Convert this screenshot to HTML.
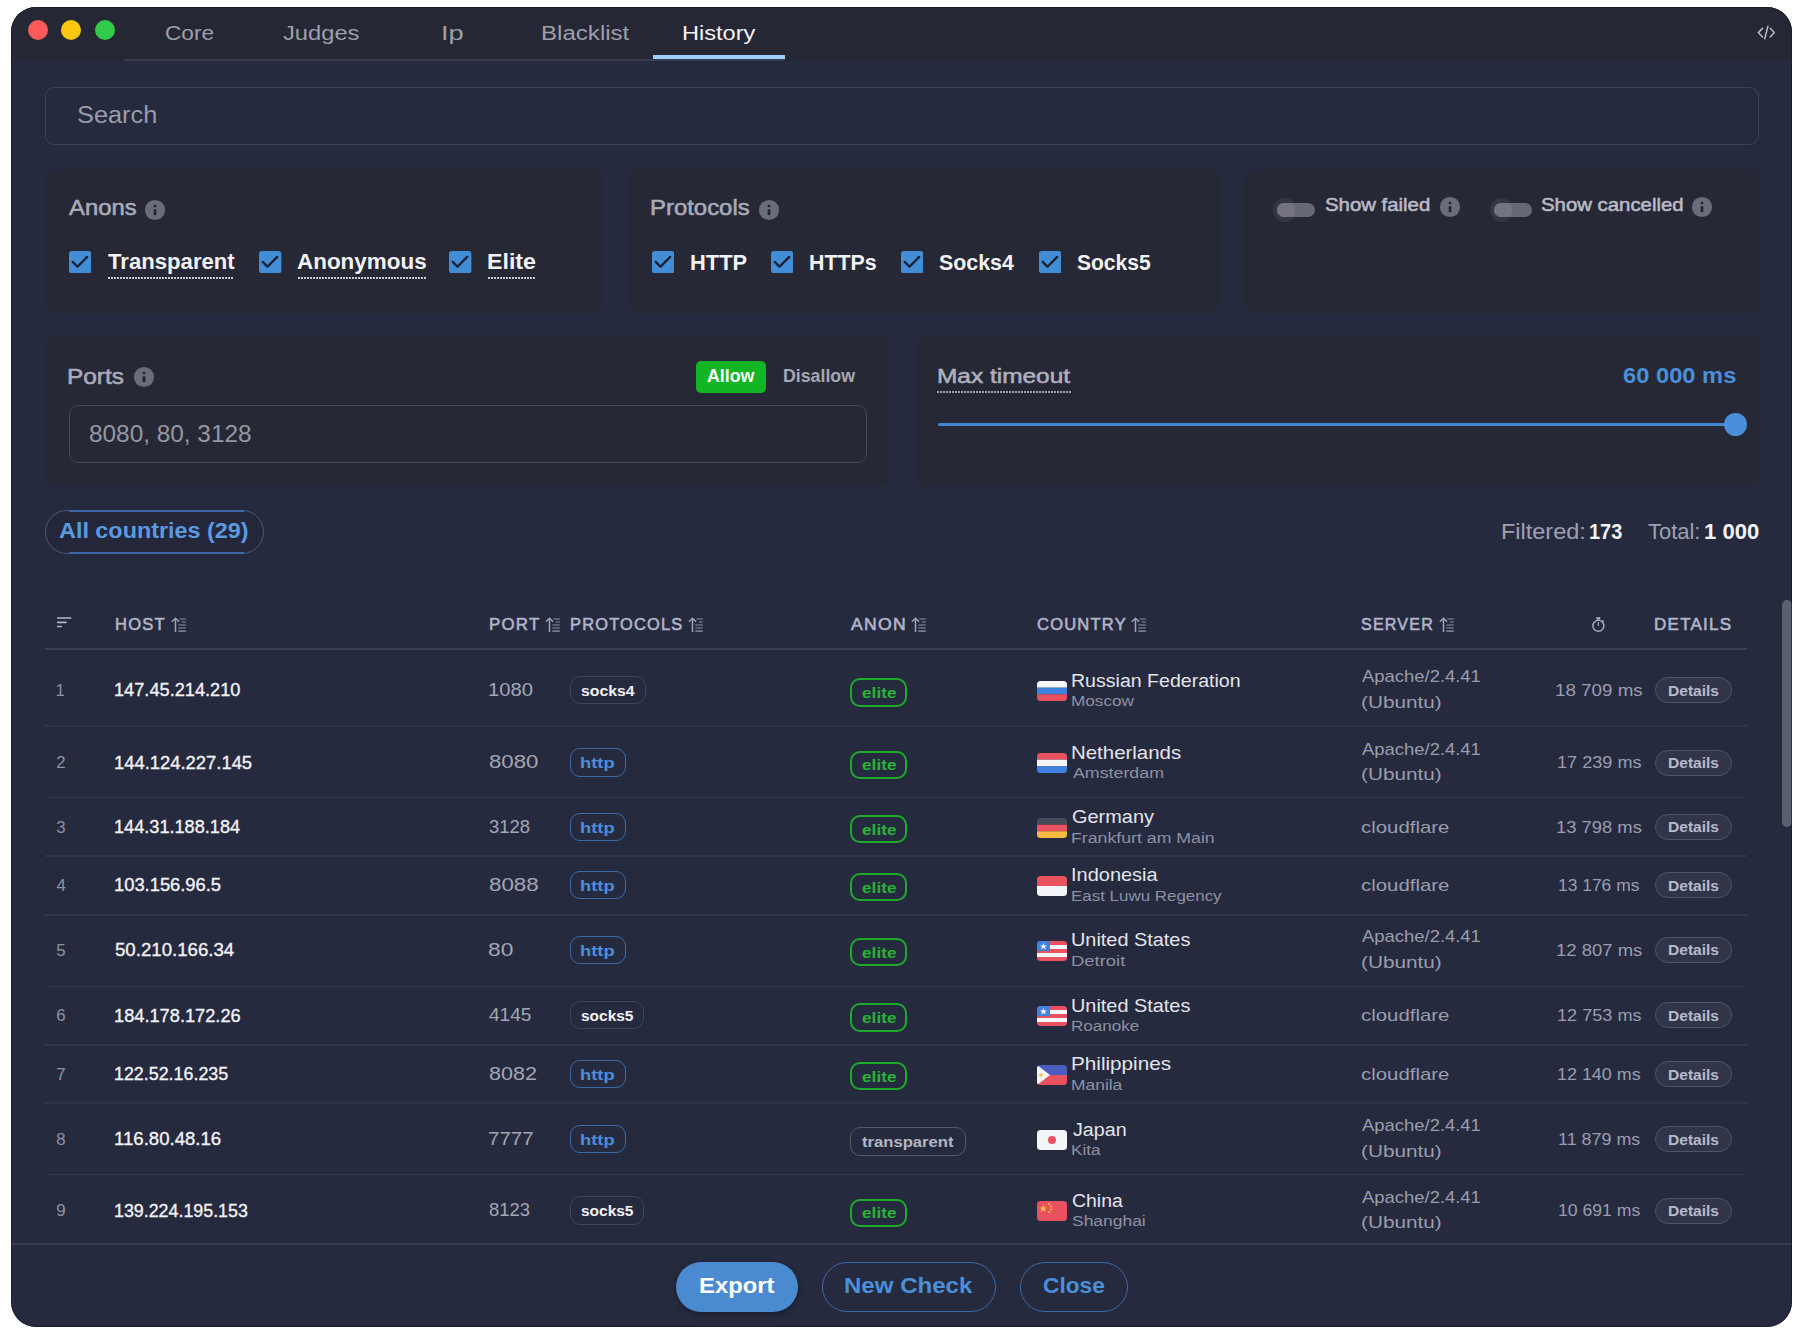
<!DOCTYPE html>
<html><head><meta charset="utf-8"><title>History</title>
<style>
html,body{margin:0;padding:0;background:#ffffff;width:1801px;height:1334px;overflow:hidden;}
body{position:relative;font-family:'Liberation Sans', Arial, sans-serif;}
.t{position:absolute;white-space:nowrap;line-height:1;}
</style></head><body>
<div style="position:absolute;left:11px;top:7px;width:1781px;height:1320px;border-radius:25px;background:#262a3f;overflow:hidden;"><div style="position:absolute;left:0;top:0;width:1781px;height:53.6px;background:#252735;"></div></div><div style="position:absolute;left:27.9px;top:20px;width:20px;height:20px;border-radius:50%;background:#fe5a5c;"></div><div style="position:absolute;left:61.3px;top:20px;width:20px;height:20px;border-radius:50%;background:#fbc70f;"></div><div style="position:absolute;left:94.8px;top:20px;width:20px;height:20px;border-radius:50%;background:#30cb4b;"></div><div style="position:absolute;left:124px;top:59.2px;width:661px;height:1.6px;background:#393c4f;"></div><div style="position:absolute;left:653px;top:55px;width:132px;height:4px;background:#9dcff7;"></div><svg style="position:absolute;left:1756px;top:25px" width="21" height="16" viewBox="0 0 21 16" fill="none" stroke="#b8b9c6" stroke-width="1.5" stroke-linecap="round" stroke-linejoin="round"><path d="M6.5 3.4 L2.3 7.6 L6.5 11.9"/><path d="M14.2 3.3 L18.3 7.6 L14.2 11.9"/><path d="M11.9 1.3 L8.7 13.8"/></svg><div style="position:absolute;left:45px;top:87px;width:1714px;height:58px;box-sizing:border-box;border:1.5px solid #3c4156;border-radius:9px;"></div><div style="position:absolute;left:45px;top:169px;width:558px;height:144.5px;background:#262835;border-radius:12px;"></div><div style="position:absolute;left:628px;top:169px;width:591.5px;height:144.5px;background:#262835;border-radius:12px;"></div><div style="position:absolute;left:1244px;top:169px;width:516px;height:144.5px;background:#262835;border-radius:12px;"></div><div style="position:absolute;left:45px;top:335px;width:845px;height:150.5px;background:#262835;border-radius:12px;"></div><div style="position:absolute;left:914.5px;top:335px;width:844.5px;height:150.5px;background:#262835;border-radius:12px;"></div><svg style="position:absolute;left:143.6px;top:198.6px" width="22" height="22" viewBox="0 0 22 22"><circle cx="11" cy="11" r="10.1" fill="#6b6c79"/><circle cx="11" cy="7.1" r="1.45" fill="#23242f"/><rect x="9.65" y="10.3" width="2.7" height="5.8" fill="#23242f"/></svg><svg style="position:absolute;left:69px;top:251px" width="22.4" height="22.4" viewBox="0 0 22.4 22.4"><rect width="22.4" height="22.4" rx="3" fill="#438cd6"/><path d="M3.7 10.9 L8.5 15.7 L18.2 5.9" fill="none" stroke="#1b2031" stroke-width="2.3" stroke-linecap="round" stroke-linejoin="round"/></svg><div style="position:absolute;left:108px;top:277px;width:126px;height:2px;background:repeating-linear-gradient(90deg,#c9cad3 0 2px,transparent 2px 3px);"></div><svg style="position:absolute;left:259.3px;top:251px" width="22.4" height="22.4" viewBox="0 0 22.4 22.4"><rect width="22.4" height="22.4" rx="3" fill="#438cd6"/><path d="M3.7 10.9 L8.5 15.7 L18.2 5.9" fill="none" stroke="#1b2031" stroke-width="2.3" stroke-linecap="round" stroke-linejoin="round"/></svg><div style="position:absolute;left:298px;top:277px;width:128px;height:2px;background:repeating-linear-gradient(90deg,#c9cad3 0 2px,transparent 2px 3px);"></div><svg style="position:absolute;left:449.3px;top:251px" width="22.4" height="22.4" viewBox="0 0 22.4 22.4"><rect width="22.4" height="22.4" rx="3" fill="#438cd6"/><path d="M3.7 10.9 L8.5 15.7 L18.2 5.9" fill="none" stroke="#1b2031" stroke-width="2.3" stroke-linecap="round" stroke-linejoin="round"/></svg><div style="position:absolute;left:488px;top:277px;width:47px;height:2px;background:repeating-linear-gradient(90deg,#c9cad3 0 2px,transparent 2px 3px);"></div><svg style="position:absolute;left:757.7px;top:198.6px" width="22" height="22" viewBox="0 0 22 22"><circle cx="11" cy="11" r="10.1" fill="#6b6c79"/><circle cx="11" cy="7.1" r="1.45" fill="#23242f"/><rect x="9.65" y="10.3" width="2.7" height="5.8" fill="#23242f"/></svg><svg style="position:absolute;left:652px;top:251px" width="22.4" height="22.4" viewBox="0 0 22.4 22.4"><rect width="22.4" height="22.4" rx="3" fill="#438cd6"/><path d="M3.7 10.9 L8.5 15.7 L18.2 5.9" fill="none" stroke="#1b2031" stroke-width="2.3" stroke-linecap="round" stroke-linejoin="round"/></svg><svg style="position:absolute;left:771.1px;top:251px" width="22.4" height="22.4" viewBox="0 0 22.4 22.4"><rect width="22.4" height="22.4" rx="3" fill="#438cd6"/><path d="M3.7 10.9 L8.5 15.7 L18.2 5.9" fill="none" stroke="#1b2031" stroke-width="2.3" stroke-linecap="round" stroke-linejoin="round"/></svg><svg style="position:absolute;left:900.9px;top:251px" width="22.4" height="22.4" viewBox="0 0 22.4 22.4"><rect width="22.4" height="22.4" rx="3" fill="#438cd6"/><path d="M3.7 10.9 L8.5 15.7 L18.2 5.9" fill="none" stroke="#1b2031" stroke-width="2.3" stroke-linecap="round" stroke-linejoin="round"/></svg><svg style="position:absolute;left:1038.6px;top:251px" width="22.4" height="22.4" viewBox="0 0 22.4 22.4"><rect width="22.4" height="22.4" rx="3" fill="#438cd6"/><path d="M3.7 10.9 L8.5 15.7 L18.2 5.9" fill="none" stroke="#1b2031" stroke-width="2.3" stroke-linecap="round" stroke-linejoin="round"/></svg><div style="position:absolute;left:1273.2px;top:198.3px;width:23.4px;height:23.4px;border-radius:50%;background:#343645;"></div><div style="position:absolute;left:1277px;top:202.5px;width:38px;height:14.5px;border-radius:7.25px;background:#666873;"></div><div style="position:absolute;left:1277px;top:202.5px;width:18px;height:14.5px;border-radius:7.25px 5px 5px 7.25px;background:#737480;"></div><svg style="position:absolute;left:1438.5px;top:196px" width="22" height="22" viewBox="0 0 22 22"><circle cx="11" cy="11" r="10.1" fill="#6b6c79"/><circle cx="11" cy="7.1" r="1.45" fill="#23242f"/><rect x="9.65" y="10.3" width="2.7" height="5.8" fill="#23242f"/></svg><div style="position:absolute;left:1489.7px;top:198.3px;width:23.4px;height:23.4px;border-radius:50%;background:#343645;"></div><div style="position:absolute;left:1493.5px;top:202.5px;width:38px;height:14.5px;border-radius:7.25px;background:#666873;"></div><div style="position:absolute;left:1493.5px;top:202.5px;width:18px;height:14.5px;border-radius:7.25px 5px 5px 7.25px;background:#737480;"></div><svg style="position:absolute;left:1691.2px;top:196px" width="22" height="22" viewBox="0 0 22 22"><circle cx="11" cy="11" r="10.1" fill="#6b6c79"/><circle cx="11" cy="7.1" r="1.45" fill="#23242f"/><rect x="9.65" y="10.3" width="2.7" height="5.8" fill="#23242f"/></svg><svg style="position:absolute;left:132.8px;top:366.4px" width="22" height="22" viewBox="0 0 22 22"><circle cx="11" cy="11" r="10.1" fill="#6b6c79"/><circle cx="11" cy="7.1" r="1.45" fill="#23242f"/><rect x="9.65" y="10.3" width="2.7" height="5.8" fill="#23242f"/></svg><div style="position:absolute;left:695.5px;top:360.5px;width:70.5px;height:32px;background:#12b523;border-radius:5px;"></div><div style="position:absolute;left:69px;top:405px;width:797.5px;height:57.5px;box-sizing:border-box;border:1.5px solid #454857;border-radius:9px;"></div><div style="position:absolute;left:937px;top:391px;width:134.2px;height:2px;background:repeating-linear-gradient(90deg,#9ea1ae 0 2px,transparent 2px 3px);"></div><div style="position:absolute;left:937.6px;top:423.1px;width:798px;height:3.2px;background:#4088d2;border-radius:2px;"></div><div style="position:absolute;left:1723.8px;top:413.2px;width:23px;height:23px;background:#4a8fd9;border-radius:50%;"></div><div style="position:absolute;left:45px;top:510px;width:219px;height:43.5px;box-sizing:border-box;border:1.5px solid #4a5a7c;border-radius:22px;background:#24273a;"></div><div style="position:absolute;left:68.5px;top:510px;width:175.7px;height:1.5px;background:#3d6aa6;"></div><div style="position:absolute;left:68.5px;top:552px;width:175.7px;height:1.5px;background:#3d6aa6;"></div><svg style="position:absolute;left:167.79999999999998px;top:612px" width="20" height="24" viewBox="0 0 20 24" fill="none" stroke-width="1.5"><path d="M7.5 6.2 V19.9 M3.9 9.7 L7.5 6.3 L11.1 9.7" stroke="#9ea2b8"/><path d="M11.5 6.9 H17.8 M13.8 10 H17.8 M10.3 13 H17.8 M10.3 16.1 H17.8" stroke="#6b7085"/><path d="M10.3 19.1 H17.8" stroke="#868aa0"/></svg><svg style="position:absolute;left:542.1px;top:612px" width="20" height="24" viewBox="0 0 20 24" fill="none" stroke-width="1.5"><path d="M7.5 6.2 V19.9 M3.9 9.7 L7.5 6.3 L11.1 9.7" stroke="#9ea2b8"/><path d="M11.5 6.9 H17.8 M13.8 10 H17.8 M10.3 13 H17.8 M10.3 16.1 H17.8" stroke="#6b7085"/><path d="M10.3 19.1 H17.8" stroke="#868aa0"/></svg><svg style="position:absolute;left:684.9px;top:612px" width="20" height="24" viewBox="0 0 20 24" fill="none" stroke-width="1.5"><path d="M7.5 6.2 V19.9 M3.9 9.7 L7.5 6.3 L11.1 9.7" stroke="#9ea2b8"/><path d="M11.5 6.9 H17.8 M13.8 10 H17.8 M10.3 13 H17.8 M10.3 16.1 H17.8" stroke="#6b7085"/><path d="M10.3 19.1 H17.8" stroke="#868aa0"/></svg><svg style="position:absolute;left:907.7px;top:612px" width="20" height="24" viewBox="0 0 20 24" fill="none" stroke-width="1.5"><path d="M7.5 6.2 V19.9 M3.9 9.7 L7.5 6.3 L11.1 9.7" stroke="#9ea2b8"/><path d="M11.5 6.9 H17.8 M13.8 10 H17.8 M10.3 13 H17.8 M10.3 16.1 H17.8" stroke="#6b7085"/><path d="M10.3 19.1 H17.8" stroke="#868aa0"/></svg><svg style="position:absolute;left:1128.3px;top:612px" width="20" height="24" viewBox="0 0 20 24" fill="none" stroke-width="1.5"><path d="M7.5 6.2 V19.9 M3.9 9.7 L7.5 6.3 L11.1 9.7" stroke="#9ea2b8"/><path d="M11.5 6.9 H17.8 M13.8 10 H17.8 M10.3 13 H17.8 M10.3 16.1 H17.8" stroke="#6b7085"/><path d="M10.3 19.1 H17.8" stroke="#868aa0"/></svg><svg style="position:absolute;left:1436.3999999999999px;top:612px" width="20" height="24" viewBox="0 0 20 24" fill="none" stroke-width="1.5"><path d="M7.5 6.2 V19.9 M3.9 9.7 L7.5 6.3 L11.1 9.7" stroke="#9ea2b8"/><path d="M11.5 6.9 H17.8 M13.8 10 H17.8 M10.3 13 H17.8 M10.3 16.1 H17.8" stroke="#6b7085"/><path d="M10.3 19.1 H17.8" stroke="#868aa0"/></svg><svg style="position:absolute;left:56px;top:612px" width="18" height="18" viewBox="0 0 18 18" fill="none" stroke="#b3b6c6" stroke-width="1.7" stroke-linecap="round"><path d="M1.7 6 H14.6 M1.7 10.3 H9.9 M1.7 14.5 H5.2"/></svg><svg style="position:absolute;left:1586px;top:612px" width="24" height="24" viewBox="0 0 24 24" fill="none" stroke="#a4a8be" stroke-width="1.5"><circle cx="12.4" cy="13.8" r="5.5"/><rect x="10.4" y="5.1" width="3.8" height="2.4" fill="#a4a8be" stroke="none"/><rect x="11.4" y="7" width="1.9" height="1.6" fill="#8c90a6" stroke="none"/><path d="M16.3 8.4 L17.6 9.7"/><path d="M12.4 10.3 V13.9" stroke-width="1.2"/></svg><div style="position:absolute;left:45px;top:648px;width:1702px;height:1.5px;background:#3b3f53;"></div><div style="position:absolute;left:45px;top:725.25px;width:1702px;height:1.5px;background:#31354a;"></div><div style="position:absolute;left:569.8px;top:676.0px;width:76.2px;height:28.4px;box-sizing:border-box;border:1.5px solid #414559;border-radius:10px;"></div><div style="position:absolute;left:850px;top:678.2px;width:57px;height:28.4px;box-sizing:border-box;border:2px solid #1eaa2a;border-radius:10px;"></div><svg style="position:absolute;left:1037px;top:681.0px" width="30" height="20" viewBox="0 0 30 20"><clipPath id="cru681.0"><rect width="30" height="20" rx="3.5"/></clipPath><g clip-path="url(#cru681.0)"><rect width="30" height="6.7" fill="#f4f5f8"/><rect y="6.7" width="30" height="6.7" fill="#3f80e0"/><rect y="13.3" width="30" height="6.7" fill="#e9515f"/></g></svg><div style="position:absolute;left:1654.5px;top:677.2px;width:77.5px;height:26px;box-sizing:border-box;background:#31354a;border:1.5px solid #4f536a;border-radius:13px;"></div><div style="position:absolute;left:45px;top:796.75px;width:1702px;height:1.5px;background:#31354a;"></div><div style="position:absolute;left:569.8px;top:748.3px;width:56.3px;height:28.4px;box-sizing:border-box;border:1.5px solid #3b6ca8;border-radius:10px;"></div><div style="position:absolute;left:850px;top:750.5px;width:57px;height:28.4px;box-sizing:border-box;border:2px solid #1eaa2a;border-radius:10px;"></div><svg style="position:absolute;left:1037px;top:753.3px" width="30" height="20" viewBox="0 0 30 20"><clipPath id="cnl753.3"><rect width="30" height="20" rx="3.5"/></clipPath><g clip-path="url(#cnl753.3)"><rect width="30" height="6.7" fill="#e9515f"/><rect y="6.7" width="30" height="6.7" fill="#f4f5f8"/><rect y="13.3" width="30" height="6.7" fill="#3f80e0"/></g></svg><div style="position:absolute;left:1654.5px;top:749.5px;width:77.5px;height:26px;box-sizing:border-box;background:#31354a;border:1.5px solid #4f536a;border-radius:13px;"></div><div style="position:absolute;left:45px;top:855.25px;width:1702px;height:1.5px;background:#31354a;"></div><div style="position:absolute;left:569.8px;top:812.6999999999999px;width:56.3px;height:28.4px;box-sizing:border-box;border:1.5px solid #3b6ca8;border-radius:10px;"></div><div style="position:absolute;left:850px;top:814.9px;width:57px;height:28.4px;box-sizing:border-box;border:2px solid #1eaa2a;border-radius:10px;"></div><svg style="position:absolute;left:1037px;top:817.6999999999999px" width="30" height="20" viewBox="0 0 30 20"><clipPath id="cde817.6999999999999"><rect width="30" height="20" rx="3.5"/></clipPath><g clip-path="url(#cde817.6999999999999)"><rect width="30" height="6.7" fill="#454b57"/><rect y="6.7" width="30" height="6.7" fill="#e9515f"/><rect y="13.3" width="30" height="6.7" fill="#f6b93f"/></g></svg><div style="position:absolute;left:1654.5px;top:813.9px;width:77.5px;height:26px;box-sizing:border-box;background:#31354a;border:1.5px solid #4f536a;border-radius:13px;"></div><div style="position:absolute;left:45px;top:914.25px;width:1702px;height:1.5px;background:#31354a;"></div><div style="position:absolute;left:569.8px;top:870.8px;width:56.3px;height:28.4px;box-sizing:border-box;border:1.5px solid #3b6ca8;border-radius:10px;"></div><div style="position:absolute;left:850px;top:873.0px;width:57px;height:28.4px;box-sizing:border-box;border:2px solid #1eaa2a;border-radius:10px;"></div><svg style="position:absolute;left:1037px;top:875.8px" width="30" height="20" viewBox="0 0 30 20"><clipPath id="cid875.8"><rect width="30" height="20" rx="3.5"/></clipPath><g clip-path="url(#cid875.8)"><rect width="30" height="10" fill="#e9515f"/><rect y="10" width="30" height="10" fill="#f4f5f8"/></g></svg><div style="position:absolute;left:1654.5px;top:872px;width:77.5px;height:26px;box-sizing:border-box;background:#31354a;border:1.5px solid #4f536a;border-radius:13px;"></div><div style="position:absolute;left:45px;top:985.75px;width:1702px;height:1.5px;background:#31354a;"></div><div style="position:absolute;left:569.8px;top:935.6999999999999px;width:56.3px;height:28.4px;box-sizing:border-box;border:1.5px solid #3b6ca8;border-radius:10px;"></div><div style="position:absolute;left:850px;top:937.9px;width:57px;height:28.4px;box-sizing:border-box;border:2px solid #1eaa2a;border-radius:10px;"></div><svg style="position:absolute;left:1037px;top:940.6999999999999px" width="30" height="20" viewBox="0 0 30 20"><clipPath id="cus940.6999999999999"><rect width="30" height="20" rx="3.5"/></clipPath><g clip-path="url(#cus940.6999999999999)"><rect width="30" height="20" fill="#e9515f"/><rect y="4" width="30" height="4" fill="#f4f5f8"/><rect y="12" width="30" height="4" fill="#f4f5f8"/><rect width="13" height="10" fill="#3f80e0"/><path d="M6.5 2 L7.5 4.5 L10.1 4.5 L8 6.1 L8.8 8.6 L6.5 7.1 L4.2 8.6 L5 6.1 L2.9 4.5 L5.5 4.5 Z" fill="#f4f5f8"/></g></svg><div style="position:absolute;left:1654.5px;top:936.9px;width:77.5px;height:26px;box-sizing:border-box;background:#31354a;border:1.5px solid #4f536a;border-radius:13px;"></div><div style="position:absolute;left:45px;top:1044.25px;width:1702px;height:1.5px;background:#31354a;"></div><div style="position:absolute;left:569.8px;top:1001.0999999999999px;width:74.5px;height:28.4px;box-sizing:border-box;border:1.5px solid #414559;border-radius:10px;"></div><div style="position:absolute;left:850px;top:1003.3px;width:57px;height:28.4px;box-sizing:border-box;border:2px solid #1eaa2a;border-radius:10px;"></div><svg style="position:absolute;left:1037px;top:1006.0999999999999px" width="30" height="20" viewBox="0 0 30 20"><clipPath id="cus1006.0999999999999"><rect width="30" height="20" rx="3.5"/></clipPath><g clip-path="url(#cus1006.0999999999999)"><rect width="30" height="20" fill="#e9515f"/><rect y="4" width="30" height="4" fill="#f4f5f8"/><rect y="12" width="30" height="4" fill="#f4f5f8"/><rect width="13" height="10" fill="#3f80e0"/><path d="M6.5 2 L7.5 4.5 L10.1 4.5 L8 6.1 L8.8 8.6 L6.5 7.1 L4.2 8.6 L5 6.1 L2.9 4.5 L5.5 4.5 Z" fill="#f4f5f8"/></g></svg><div style="position:absolute;left:1654.5px;top:1002.3px;width:77.5px;height:26px;box-sizing:border-box;background:#31354a;border:1.5px solid #4f536a;border-radius:13px;"></div><div style="position:absolute;left:45px;top:1102.25px;width:1702px;height:1.5px;background:#31354a;"></div><div style="position:absolute;left:569.8px;top:1059.8px;width:56.3px;height:28.4px;box-sizing:border-box;border:1.5px solid #3b6ca8;border-radius:10px;"></div><div style="position:absolute;left:850px;top:1062.0px;width:57px;height:28.4px;box-sizing:border-box;border:2px solid #1eaa2a;border-radius:10px;"></div><svg style="position:absolute;left:1037px;top:1064.8px" width="30" height="20" viewBox="0 0 30 20"><clipPath id="cph1064.8"><rect width="30" height="20" rx="3.5"/></clipPath><g clip-path="url(#cph1064.8)"><rect width="30" height="10" fill="#4b5bbf"/><rect y="10" width="30" height="10" fill="#e9515f"/><path d="M0 0 L13 10 L0 20 Z" fill="#f4f5f8"/><circle cx="4" cy="10" r="1.8" fill="#f5c342"/></g></svg><div style="position:absolute;left:1654.5px;top:1061px;width:77.5px;height:26px;box-sizing:border-box;background:#31354a;border:1.5px solid #4f536a;border-radius:13px;"></div><div style="position:absolute;left:45px;top:1173.75px;width:1702px;height:1.5px;background:#31354a;"></div><div style="position:absolute;left:569.8px;top:1124.8999999999999px;width:56.3px;height:28.4px;box-sizing:border-box;border:1.5px solid #3b6ca8;border-radius:10px;"></div><div style="position:absolute;left:850px;top:1127.1px;width:115.6px;height:29px;box-sizing:border-box;border:1.5px solid #545869;border-radius:10px;"></div><svg style="position:absolute;left:1037px;top:1129.8999999999999px" width="30" height="20" viewBox="0 0 30 20"><clipPath id="cjp1129.8999999999999"><rect width="30" height="20" rx="3.5"/></clipPath><g clip-path="url(#cjp1129.8999999999999)"><rect width="30" height="20" fill="#f4f5f8"/><circle cx="15" cy="10" r="4" fill="#e9515f"/></g></svg><div style="position:absolute;left:1654.5px;top:1126.1px;width:77.5px;height:26px;box-sizing:border-box;background:#31354a;border:1.5px solid #4f536a;border-radius:13px;"></div><div style="position:absolute;left:569.8px;top:1196.3999999999999px;width:74.5px;height:28.4px;box-sizing:border-box;border:1.5px solid #414559;border-radius:10px;"></div><div style="position:absolute;left:850px;top:1198.6px;width:57px;height:28.4px;box-sizing:border-box;border:2px solid #1eaa2a;border-radius:10px;"></div><svg style="position:absolute;left:1037px;top:1201.3999999999999px" width="30" height="20" viewBox="0 0 30 20"><clipPath id="ccn1201.3999999999999"><rect width="30" height="20" rx="3.5"/></clipPath><g clip-path="url(#ccn1201.3999999999999)"><rect width="30" height="20" fill="#e9515f"/><path d="M6.3 3.6 L7.3 6.4 L10.2 6.4 L7.9 8.1 L8.7 10.9 L6.3 9.2 L3.9 10.9 L4.7 8.1 L2.4 6.4 L5.3 6.4 Z" fill="#f6c443"/><circle cx="12" cy="3" r="1" fill="#f6c443"/><circle cx="14" cy="5.5" r="1" fill="#f6c443"/><circle cx="14" cy="8.5" r="1" fill="#f6c443"/><circle cx="12" cy="11" r="1" fill="#f6c443"/></g></svg><div style="position:absolute;left:1654.5px;top:1197.6px;width:77.5px;height:26px;box-sizing:border-box;background:#31354a;border:1.5px solid #4f536a;border-radius:13px;"></div><div style="position:absolute;left:1782px;top:600px;width:10px;height:227px;background:#5c5f70;border-radius:5px;"></div><div style="position:absolute;left:11px;top:1243px;width:1781px;height:1.5px;background:#393c50;"></div><div style="position:absolute;left:676px;top:1262px;width:122px;height:49.5px;background:#4a8ad0;border-radius:25px;box-shadow:0 2px 6px rgba(0,0,0,.35);"></div><div style="position:absolute;left:822px;top:1262px;width:174px;height:49.5px;box-sizing:border-box;border:1.5px solid #3b6aa6;border-radius:25px;"></div><div style="position:absolute;left:1020px;top:1262px;width:108px;height:49.5px;box-sizing:border-box;border:1.5px solid #3b6aa6;border-radius:25px;"></div>
<span class="t" style="left:165.10px;top:22.58px;font-size:20.58px;color:#9d9fab;transform:scaleX(1.1018);transform-origin:0 0;">Core</span><span class="t" style="left:283.42px;top:22.58px;font-size:20.58px;color:#9d9fab;transform:scaleX(1.1523);transform-origin:0 0;">Judges</span><span class="t" style="left:441.35px;top:22.58px;font-size:20.58px;color:#9d9fab;transform:scaleX(1.3263);transform-origin:0 0;">Ip</span><span class="t" style="left:541.25px;top:22.58px;font-size:20.58px;color:#9d9fab;transform:scaleX(1.1701);transform-origin:0 0;">Blacklist</span><span class="t" style="left:681.90px;top:22.58px;font-size:20.58px;color:#f2f2f5;transform:scaleX(1.1454);transform-origin:0 0;">History</span><span class="t" style="left:76.66px;top:104.21px;font-size:23.62px;color:#9a9cab;transform:scaleX(1.0736);transform-origin:0 0;">Search</span><span class="t" style="left:68.58px;top:197.77px;font-size:21.3px;color:#a9abb8;-webkit-text-stroke:0.55px #a9abb8;transform:scaleX(1.1187);transform-origin:0 0;">Anons</span><span class="t" style="left:107.75px;top:250.90px;font-size:21.74px;color:#f2f2f5;font-weight:700;transform:scaleX(1.0185);transform-origin:0 0;">Transparent</span><span class="t" style="left:296.93px;top:250.90px;font-size:21.74px;color:#f2f2f5;font-weight:700;transform:scaleX(1.0323);transform-origin:0 0;">Anonymous</span><span class="t" style="left:486.70px;top:250.90px;font-size:21.74px;color:#f2f2f5;font-weight:700;transform:scaleX(1.0674);transform-origin:0 0;">Elite</span><span class="t" style="left:650.32px;top:197.77px;font-size:21.3px;color:#a9abb8;-webkit-text-stroke:0.55px #a9abb8;transform:scaleX(1.1228);transform-origin:0 0;">Protocols</span><span class="t" style="left:689.69px;top:251.80px;font-size:21.74px;color:#f2f2f5;font-weight:700;transform:scaleX(1.0055);transform-origin:0 0;">HTTP</span><span class="t" style="left:808.82px;top:251.80px;font-size:21.74px;color:#f2f2f5;font-weight:700;transform:scaleX(0.9835);transform-origin:0 0;">HTTPs</span><span class="t" style="left:939.06px;top:251.80px;font-size:21.74px;color:#f2f2f5;font-weight:700;transform:scaleX(0.9834);transform-origin:0 0;">Socks4</span><span class="t" style="left:1076.77px;top:251.80px;font-size:21.74px;color:#f2f2f5;font-weight:700;transform:scaleX(0.9672);transform-origin:0 0;">Socks5</span><span class="t" style="left:1324.76px;top:196.45px;font-size:18.84px;color:#b9bbc7;-webkit-text-stroke:0.55px #b9bbc7;transform:scaleX(1.0813);transform-origin:0 0;">Show failed</span><span class="t" style="left:1540.96px;top:196.45px;font-size:18.84px;color:#b9bbc7;-webkit-text-stroke:0.55px #b9bbc7;transform:scaleX(1.0812);transform-origin:0 0;">Show cancelled</span><span class="t" style="left:67.28px;top:367.17px;font-size:21.3px;color:#a9abb8;-webkit-text-stroke:0.55px #a9abb8;transform:scaleX(1.1455);transform-origin:0 0;">Ports</span><span class="t" style="left:706.73px;top:367.35px;font-size:18.84px;color:#ffffff;font-weight:700;transform:scaleX(0.9447);transform-origin:0 0;">Allow</span><span class="t" style="left:782.72px;top:367.35px;font-size:18.84px;color:#a6a8b3;font-weight:700;transform:scaleX(0.9422);transform-origin:0 0;">Disallow</span><span class="t" style="left:89.01px;top:421.54px;font-size:24.64px;color:#9598a4;transform:scaleX(0.9892);transform-origin:0 0;">8080, 80, 3128</span><span class="t" style="left:936.99px;top:365.92px;font-size:20.29px;color:#aeb0bc;-webkit-text-stroke:0.55px #aeb0bc;transform:scaleX(1.2046);transform-origin:0 0;">Max timeout</span><span class="t" style="left:1623.18px;top:365.30px;font-size:21.74px;color:#4a8fd9;font-weight:700;transform:scaleX(1.0905);transform-origin:0 0;">60 000 ms</span><span class="t" style="left:58.91px;top:520.11px;font-size:22.32px;color:#5a9be0;font-weight:700;transform:scaleX(1.0477);transform-origin:0 0;">All countries (29)</span><span class="t" style="left:1501.41px;top:520.80px;font-size:21.74px;color:#9ea1b2;transform:scaleX(1.0796);transform-origin:0 0;">Filtered:</span><span class="t" style="left:1589.15px;top:520.80px;font-size:21.74px;color:#f2f2f5;font-weight:700;transform:scaleX(0.9168);transform-origin:0 0;">173</span><span class="t" style="left:1647.79px;top:520.80px;font-size:21.74px;color:#9ea1b2;transform:scaleX(1.0101);transform-origin:0 0;">Total:</span><span class="t" style="left:1703.73px;top:520.80px;font-size:21.74px;color:#f2f2f5;font-weight:700;transform:scaleX(1.0144);transform-origin:0 0;">1 000</span><span class="t" style="left:115.21px;top:616.08px;font-size:17.39px;color:#b1b5c9;-webkit-text-stroke:0.6px #b1b5c9;letter-spacing:1.3px;transform:scaleX(0.9517);transform-origin:0 0;">HOST</span><span class="t" style="left:488.89px;top:616.08px;font-size:17.39px;color:#b1b5c9;-webkit-text-stroke:0.6px #b1b5c9;letter-spacing:1.3px;transform:scaleX(0.9683);transform-origin:0 0;">PORT</span><span class="t" style="left:569.52px;top:616.08px;font-size:17.39px;color:#b1b5c9;-webkit-text-stroke:0.6px #b1b5c9;letter-spacing:1.3px;transform:scaleX(0.9421);transform-origin:0 0;">PROTOCOLS</span><span class="t" style="left:850.65px;top:616.08px;font-size:17.39px;color:#b1b5c9;-webkit-text-stroke:0.6px #b1b5c9;letter-spacing:1.3px;transform:scaleX(1.0103);transform-origin:0 0;">ANON</span><span class="t" style="left:1037.03px;top:616.08px;font-size:17.39px;color:#b1b5c9;-webkit-text-stroke:0.6px #b1b5c9;letter-spacing:1.3px;transform:scaleX(0.9495);transform-origin:0 0;">COUNTRY</span><span class="t" style="left:1361.34px;top:616.08px;font-size:17.39px;color:#b1b5c9;-webkit-text-stroke:0.6px #b1b5c9;letter-spacing:1.3px;transform:scaleX(0.9238);transform-origin:0 0;">SERVER</span><span class="t" style="left:1654.08px;top:616.08px;font-size:17.39px;color:#b1b5c9;-webkit-text-stroke:0.6px #b1b5c9;letter-spacing:1.3px;transform:scaleX(0.9773);transform-origin:0 0;">DETAILS</span><span class="t" style="left:55.55px;top:683.07px;font-size:16.81px;color:#8f92a3;">1</span><span class="t" style="left:114.42px;top:680.48px;font-size:19.28px;color:#f2f2f5;-webkit-text-stroke:0.35px #f2f2f5;transform:scaleX(0.9444);transform-origin:0 0;">147.45.214.210</span><span class="t" style="left:487.79px;top:680.85px;font-size:18.84px;color:#a3a6b5;transform:scaleX(1.0742);transform-origin:0 0;">1080</span><span class="t" style="left:581.16px;top:684.09px;font-size:14.78px;color:#f2f2f5;font-weight:700;transform:scaleX(1.0707);transform-origin:0 0;">socks4</span><span class="t" style="left:861.62px;top:686.09px;font-size:14.78px;color:#27b336;font-weight:700;transform:scaleX(1.1684);transform-origin:0 0;">elite</span><span class="t" style="left:1071.15px;top:672.61px;font-size:17.83px;color:#e3e4ea;transform:scaleX(1.0967);transform-origin:0 0;">Russian Federation</span><span class="t" style="left:1071.37px;top:692.94px;font-size:15.07px;color:#8e91a1;transform:scaleX(1.1407);transform-origin:0 0;">Moscow</span><span class="t" style="left:1361.80px;top:668.28px;font-size:17.39px;color:#9a9dad;transform:scaleX(1.0607);transform-origin:0 0;">Apache/2.4.41</span><span class="t" style="left:1361.01px;top:694.08px;font-size:17.39px;color:#9a9dad;transform:scaleX(1.1939);transform-origin:0 0;">(Ubuntu)</span><span class="t" style="left:1555.15px;top:682.08px;font-size:17.39px;color:#9a9dad;transform:scaleX(1.0814);transform-origin:0 0;">18 709 ms</span><span class="t" style="left:1667.53px;top:683.73px;font-size:14.49px;color:#b8bbca;font-weight:700;transform:scaleX(1.0739);transform-origin:0 0;">Details</span><span class="t" style="left:56.15px;top:755.37px;font-size:16.81px;color:#8f92a3;">2</span><span class="t" style="left:114.41px;top:752.78px;font-size:19.28px;color:#f2f2f5;-webkit-text-stroke:0.35px #f2f2f5;transform:scaleX(0.9548);transform-origin:0 0;">144.124.227.145</span><span class="t" style="left:488.51px;top:753.15px;font-size:18.84px;color:#a3a6b5;transform:scaleX(1.1802);transform-origin:0 0;">8080</span><span class="t" style="left:580.35px;top:756.39px;font-size:14.78px;color:#4a8fd9;font-weight:700;transform:scaleX(1.2457);transform-origin:0 0;">http</span><span class="t" style="left:861.62px;top:758.39px;font-size:14.78px;color:#27b336;font-weight:700;transform:scaleX(1.1684);transform-origin:0 0;">elite</span><span class="t" style="left:1071.08px;top:744.91px;font-size:17.83px;color:#e3e4ea;transform:scaleX(1.1457);transform-origin:0 0;">Netherlands</span><span class="t" style="left:1072.80px;top:765.24px;font-size:15.07px;color:#8e91a1;transform:scaleX(1.1816);transform-origin:0 0;">Amsterdam</span><span class="t" style="left:1361.80px;top:740.58px;font-size:17.39px;color:#9a9dad;transform:scaleX(1.0607);transform-origin:0 0;">Apache/2.4.41</span><span class="t" style="left:1361.01px;top:766.38px;font-size:17.39px;color:#9a9dad;transform:scaleX(1.1939);transform-origin:0 0;">(Ubuntu)</span><span class="t" style="left:1557.00px;top:754.38px;font-size:17.39px;color:#9a9dad;transform:scaleX(1.0423);transform-origin:0 0;">17 239 ms</span><span class="t" style="left:1667.53px;top:756.03px;font-size:14.49px;color:#b8bbca;font-weight:700;transform:scaleX(1.0739);transform-origin:0 0;">Details</span><span class="t" style="left:56.15px;top:819.77px;font-size:16.81px;color:#8f92a3;">3</span><span class="t" style="left:114.42px;top:817.18px;font-size:19.28px;color:#f2f2f5;-webkit-text-stroke:0.35px #f2f2f5;transform:scaleX(0.9414);transform-origin:0 0;">144.31.188.184</span><span class="t" style="left:488.67px;top:817.55px;font-size:18.84px;color:#a3a6b5;transform:scaleX(0.9764);transform-origin:0 0;">3128</span><span class="t" style="left:580.35px;top:820.79px;font-size:14.78px;color:#4a8fd9;font-weight:700;transform:scaleX(1.2457);transform-origin:0 0;">http</span><span class="t" style="left:861.62px;top:822.79px;font-size:14.78px;color:#27b336;font-weight:700;transform:scaleX(1.1684);transform-origin:0 0;">elite</span><span class="t" style="left:1071.68px;top:809.31px;font-size:17.83px;color:#e3e4ea;transform:scaleX(1.1183);transform-origin:0 0;">Germany</span><span class="t" style="left:1071.33px;top:829.64px;font-size:15.07px;color:#8e91a1;transform:scaleX(1.1758);transform-origin:0 0;">Frankfurt am Main</span><span class="t" style="left:1360.82px;top:818.88px;font-size:17.39px;color:#9a9dad;transform:scaleX(1.1729);transform-origin:0 0;">cloudflare</span><span class="t" style="left:1556.08px;top:818.78px;font-size:17.39px;color:#9a9dad;transform:scaleX(1.0587);transform-origin:0 0;">13 798 ms</span><span class="t" style="left:1667.53px;top:820.43px;font-size:14.49px;color:#b8bbca;font-weight:700;transform:scaleX(1.0739);transform-origin:0 0;">Details</span><span class="t" style="left:56.40px;top:877.87px;font-size:16.81px;color:#8f92a3;">4</span><span class="t" style="left:114.41px;top:875.28px;font-size:19.28px;color:#f2f2f5;-webkit-text-stroke:0.35px #f2f2f5;transform:scaleX(0.9517);transform-origin:0 0;">103.156.96.5</span><span class="t" style="left:488.51px;top:875.65px;font-size:18.84px;color:#a3a6b5;transform:scaleX(1.1876);transform-origin:0 0;">8088</span><span class="t" style="left:580.35px;top:878.89px;font-size:14.78px;color:#4a8fd9;font-weight:700;transform:scaleX(1.2457);transform-origin:0 0;">http</span><span class="t" style="left:861.62px;top:880.89px;font-size:14.78px;color:#27b336;font-weight:700;transform:scaleX(1.1684);transform-origin:0 0;">elite</span><span class="t" style="left:1070.84px;top:867.41px;font-size:17.83px;color:#e3e4ea;transform:scaleX(1.1205);transform-origin:0 0;">Indonesia</span><span class="t" style="left:1071.40px;top:887.74px;font-size:15.07px;color:#8e91a1;transform:scaleX(1.1239);transform-origin:0 0;">East Luwu Regency</span><span class="t" style="left:1360.82px;top:876.98px;font-size:17.39px;color:#9a9dad;transform:scaleX(1.1729);transform-origin:0 0;">cloudflare</span><span class="t" style="left:1558.35px;top:876.88px;font-size:17.39px;color:#9a9dad;transform:scaleX(1.0032);transform-origin:0 0;">13 176 ms</span><span class="t" style="left:1667.53px;top:878.53px;font-size:14.49px;color:#b8bbca;font-weight:700;transform:scaleX(1.0739);transform-origin:0 0;">Details</span><span class="t" style="left:56.15px;top:942.77px;font-size:16.81px;color:#8f92a3;">5</span><span class="t" style="left:115.12px;top:940.18px;font-size:19.28px;color:#f2f2f5;-webkit-text-stroke:0.35px #f2f2f5;transform:scaleX(0.9673);transform-origin:0 0;">50.210.166.34</span><span class="t" style="left:488.49px;top:940.55px;font-size:18.84px;color:#a3a6b5;transform:scaleX(1.2103);transform-origin:0 0;">80</span><span class="t" style="left:580.35px;top:943.79px;font-size:14.78px;color:#4a8fd9;font-weight:700;transform:scaleX(1.2457);transform-origin:0 0;">http</span><span class="t" style="left:861.62px;top:945.79px;font-size:14.78px;color:#27b336;font-weight:700;transform:scaleX(1.1684);transform-origin:0 0;">elite</span><span class="t" style="left:1071.13px;top:932.31px;font-size:17.83px;color:#e3e4ea;transform:scaleX(1.1152);transform-origin:0 0;">United States</span><span class="t" style="left:1071.27px;top:952.64px;font-size:15.07px;color:#8e91a1;transform:scaleX(1.2233);transform-origin:0 0;">Detroit</span><span class="t" style="left:1361.80px;top:927.98px;font-size:17.39px;color:#9a9dad;transform:scaleX(1.0607);transform-origin:0 0;">Apache/2.4.41</span><span class="t" style="left:1361.01px;top:953.78px;font-size:17.39px;color:#9a9dad;transform:scaleX(1.1939);transform-origin:0 0;">(Ubuntu)</span><span class="t" style="left:1556.07px;top:941.78px;font-size:17.39px;color:#9a9dad;transform:scaleX(1.0637);transform-origin:0 0;">12 807 ms</span><span class="t" style="left:1667.53px;top:943.43px;font-size:14.49px;color:#b8bbca;font-weight:700;transform:scaleX(1.0739);transform-origin:0 0;">Details</span><span class="t" style="left:56.15px;top:1008.17px;font-size:16.81px;color:#8f92a3;">6</span><span class="t" style="left:114.42px;top:1005.58px;font-size:19.28px;color:#f2f2f5;-webkit-text-stroke:0.35px #f2f2f5;transform:scaleX(0.9462);transform-origin:0 0;">184.178.172.26</span><span class="t" style="left:488.89px;top:1005.95px;font-size:18.84px;color:#a3a6b5;transform:scaleX(1.0123);transform-origin:0 0;">4145</span><span class="t" style="left:581.18px;top:1009.19px;font-size:14.78px;color:#f2f2f5;font-weight:700;transform:scaleX(1.0477);transform-origin:0 0;">socks5</span><span class="t" style="left:861.62px;top:1011.19px;font-size:14.78px;color:#27b336;font-weight:700;transform:scaleX(1.1684);transform-origin:0 0;">elite</span><span class="t" style="left:1071.13px;top:997.71px;font-size:17.83px;color:#e3e4ea;transform:scaleX(1.1152);transform-origin:0 0;">United States</span><span class="t" style="left:1071.38px;top:1018.04px;font-size:15.07px;color:#8e91a1;transform:scaleX(1.1333);transform-origin:0 0;">Roanoke</span><span class="t" style="left:1360.82px;top:1007.28px;font-size:17.39px;color:#9a9dad;transform:scaleX(1.1729);transform-origin:0 0;">cloudflare</span><span class="t" style="left:1557.00px;top:1007.18px;font-size:17.39px;color:#9a9dad;transform:scaleX(1.0423);transform-origin:0 0;">12 753 ms</span><span class="t" style="left:1667.53px;top:1008.83px;font-size:14.49px;color:#b8bbca;font-weight:700;transform:scaleX(1.0739);transform-origin:0 0;">Details</span><span class="t" style="left:56.15px;top:1066.87px;font-size:16.81px;color:#8f92a3;">7</span><span class="t" style="left:114.44px;top:1064.28px;font-size:19.28px;color:#f2f2f5;-webkit-text-stroke:0.35px #f2f2f5;transform:scaleX(0.9267);transform-origin:0 0;">122.52.16.235</span><span class="t" style="left:488.54px;top:1064.65px;font-size:18.84px;color:#a3a6b5;transform:scaleX(1.1453);transform-origin:0 0;">8082</span><span class="t" style="left:580.35px;top:1067.89px;font-size:14.78px;color:#4a8fd9;font-weight:700;transform:scaleX(1.2457);transform-origin:0 0;">http</span><span class="t" style="left:861.62px;top:1069.89px;font-size:14.78px;color:#27b336;font-weight:700;transform:scaleX(1.1684);transform-origin:0 0;">elite</span><span class="t" style="left:1071.06px;top:1056.41px;font-size:17.83px;color:#e3e4ea;transform:scaleX(1.1607);transform-origin:0 0;">Philippines</span><span class="t" style="left:1071.35px;top:1076.74px;font-size:15.07px;color:#8e91a1;transform:scaleX(1.1561);transform-origin:0 0;">Manila</span><span class="t" style="left:1360.82px;top:1065.98px;font-size:17.39px;color:#9a9dad;transform:scaleX(1.1729);transform-origin:0 0;">cloudflare</span><span class="t" style="left:1557.01px;top:1065.88px;font-size:17.39px;color:#9a9dad;transform:scaleX(1.0309);transform-origin:0 0;">12 140 ms</span><span class="t" style="left:1667.53px;top:1067.53px;font-size:14.49px;color:#b8bbca;font-weight:700;transform:scaleX(1.0739);transform-origin:0 0;">Details</span><span class="t" style="left:56.15px;top:1131.97px;font-size:16.81px;color:#8f92a3;">8</span><span class="t" style="left:114.39px;top:1129.38px;font-size:19.28px;color:#f2f2f5;-webkit-text-stroke:0.35px #f2f2f5;transform:scaleX(0.9648);transform-origin:0 0;">116.80.48.16</span><span class="t" style="left:488.31px;top:1129.75px;font-size:18.84px;color:#a3a6b5;transform:scaleX(1.0900);transform-origin:0 0;">7777</span><span class="t" style="left:580.35px;top:1132.99px;font-size:14.78px;color:#4a8fd9;font-weight:700;transform:scaleX(1.2457);transform-origin:0 0;">http</span><span class="t" style="left:861.72px;top:1134.99px;font-size:14.78px;color:#b3b5c3;font-weight:700;transform:scaleX(1.1269);transform-origin:0 0;">transparent</span><span class="t" style="left:1072.52px;top:1121.51px;font-size:17.83px;color:#e3e4ea;transform:scaleX(1.1048);transform-origin:0 0;">Japan</span><span class="t" style="left:1071.38px;top:1141.84px;font-size:15.07px;color:#8e91a1;transform:scaleX(1.1394);transform-origin:0 0;">Kita</span><span class="t" style="left:1361.80px;top:1117.18px;font-size:17.39px;color:#9a9dad;transform:scaleX(1.0607);transform-origin:0 0;">Apache/2.4.41</span><span class="t" style="left:1361.01px;top:1142.98px;font-size:17.39px;color:#9a9dad;transform:scaleX(1.1939);transform-origin:0 0;">(Ubuntu)</span><span class="t" style="left:1558.31px;top:1130.98px;font-size:17.39px;color:#9a9dad;transform:scaleX(1.0308);transform-origin:0 0;">11 879 ms</span><span class="t" style="left:1667.53px;top:1132.63px;font-size:14.49px;color:#b8bbca;font-weight:700;transform:scaleX(1.0739);transform-origin:0 0;">Details</span><span class="t" style="left:56.15px;top:1203.47px;font-size:16.81px;color:#8f92a3;">9</span><span class="t" style="left:114.44px;top:1200.88px;font-size:19.28px;color:#f2f2f5;-webkit-text-stroke:0.35px #f2f2f5;transform:scaleX(0.9254);transform-origin:0 0;">139.224.195.153</span><span class="t" style="left:488.67px;top:1201.25px;font-size:18.84px;color:#a3a6b5;transform:scaleX(0.9764);transform-origin:0 0;">8123</span><span class="t" style="left:581.18px;top:1204.49px;font-size:14.78px;color:#f2f2f5;font-weight:700;transform:scaleX(1.0477);transform-origin:0 0;">socks5</span><span class="t" style="left:861.62px;top:1206.49px;font-size:14.78px;color:#27b336;font-weight:700;transform:scaleX(1.1684);transform-origin:0 0;">elite</span><span class="t" style="left:1071.71px;top:1193.01px;font-size:17.83px;color:#e3e4ea;transform:scaleX(1.0901);transform-origin:0 0;">China</span><span class="t" style="left:1071.93px;top:1213.34px;font-size:15.07px;color:#8e91a1;transform:scaleX(1.1581);transform-origin:0 0;">Shanghai</span><span class="t" style="left:1361.80px;top:1188.68px;font-size:17.39px;color:#9a9dad;transform:scaleX(1.0607);transform-origin:0 0;">Apache/2.4.41</span><span class="t" style="left:1361.01px;top:1214.48px;font-size:17.39px;color:#9a9dad;transform:scaleX(1.1939);transform-origin:0 0;">(Ubuntu)</span><span class="t" style="left:1558.33px;top:1202.48px;font-size:17.39px;color:#9a9dad;transform:scaleX(1.0145);transform-origin:0 0;">10 691 ms</span><span class="t" style="left:1667.53px;top:1204.13px;font-size:14.49px;color:#b8bbca;font-weight:700;transform:scaleX(1.0739);transform-origin:0 0;">Details</span><span class="t" style="left:698.92px;top:1274.86px;font-size:22.61px;color:#ffffff;font-weight:700;transform:scaleX(1.0538);transform-origin:0 0;">Export</span><span class="t" style="left:844.20px;top:1274.86px;font-size:22.61px;color:#4a8fd9;font-weight:700;transform:scaleX(1.0639);transform-origin:0 0;">New Check</span><span class="t" style="left:1042.80px;top:1274.86px;font-size:22.61px;color:#4a8fd9;font-weight:700;transform:scaleX(1.0042);transform-origin:0 0;">Close</span>
<div style="position:absolute;left:11px;top:7px;width:1781px;height:1320px;box-sizing:border-box;border-radius:25px;border:1px solid rgba(20,22,34,.6);"></div>
</body></html>
